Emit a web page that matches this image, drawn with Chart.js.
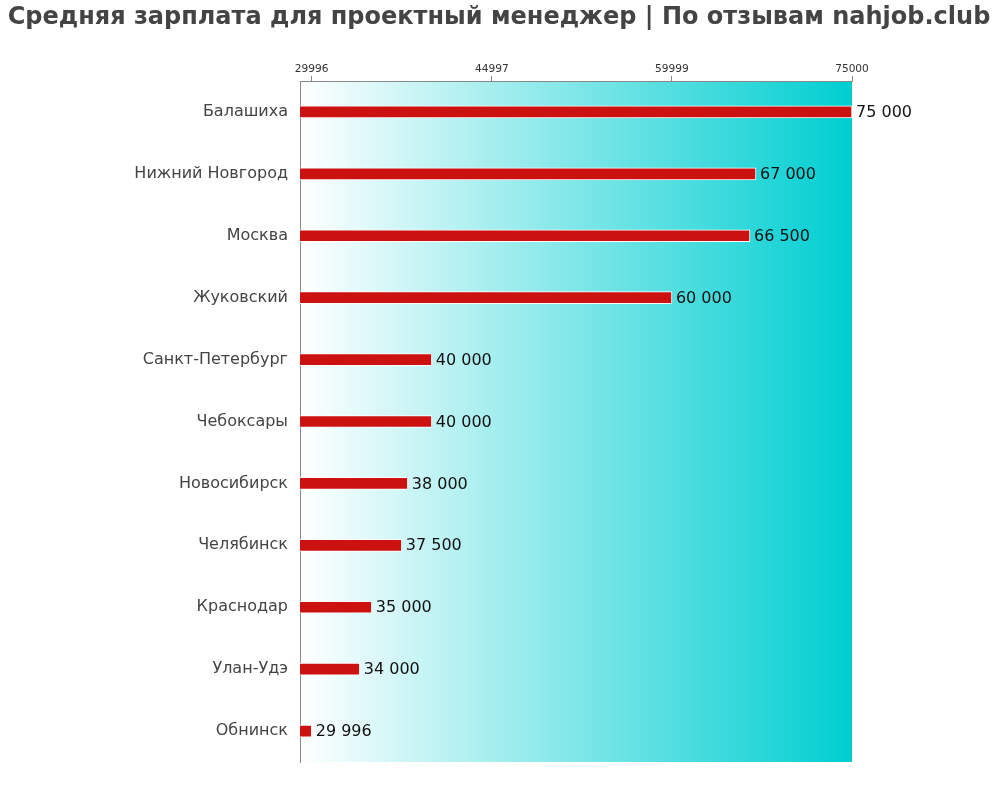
<!DOCTYPE html>
<html>
<head>
<meta charset="utf-8">
<script src="https://cdn.jsdelivr.net/npm/chart.js@4/dist/chart.umd.min.js"></script>
<style>
html,body{margin:0;padding:0;background:#fff;}
#wrap{width:1000px;height:800px;position:relative;}
</style>
</head>
<body>
<div id="wrap"><canvas id="c" width="1000" height="800"></canvas></div>
<script>
const categories = ["Балашиха","Нижний Новгород","Москва","Жуковский","Санкт-Петербург","Чебоксары","Новосибирск","Челябинск","Краснодар","Улан-Удэ","Обнинск"];
const salaries = [75000,67000,66500,60000,40000,40000,38000,37500,35000,34000,29996];
const tickValues = [29996,44997,59999,75000];
const titleText = "Средняя зарплата для проектный менеджер | По отзывам nahjob.club";

function fmt(v){ return String(v).replace(/\B(?=(\d{3})+(?!\d))/g, ' '); }

const bgPlugin = {
  id: 'bg',
  beforeDraw(chart){
    const a = chart.chartArea, ctx = chart.ctx;
    const g = ctx.createLinearGradient(a.left,0,a.right,0);
    g.addColorStop(0,'#ffffff');
    g.addColorStop(1,'#00ced1');
    ctx.save();
    ctx.fillStyle = g;
    ctx.fillRect(a.left,a.top,a.right-a.left,a.bottom-a.top);
    ctx.restore();
  }
};
const titlePlugin = {
  id: 'ttl',
  afterDraw(chart){
    const ctx = chart.ctx;
    ctx.save();
    ctx.font = 'bold 24px "DejaVu Sans"';
    ctx.fillStyle = '#444';
    ctx.textAlign = 'center';
    ctx.textBaseline = 'middle';
    ctx.fillText(titleText, 499, 18);
    ctx.restore();
  }
};
const labelPlugin = {
  id: 'vals',
  afterDatasetsDraw(chart){
    const ctx = chart.ctx;
    const meta = chart.getDatasetMeta(0);
    ctx.save();
    ctx.font = '16px "DejaVu Sans"';
    ctx.fillStyle = '#111';
    ctx.textAlign = 'left';
    ctx.textBaseline = 'middle';
    meta.data.forEach((el,i)=>{
      ctx.fillText(fmt(salaries[i]), el.x + 4, el.y + 1);
    });
    ctx.restore();
  }
};

new Chart(document.getElementById('c'), {
  type: 'bar',
  data: {
    labels: categories,
    datasets: [{
      data: salaries,
      backgroundColor: '#cc1111',
      borderColor: '#ffffff',
      borderWidth: 1,
      barThickness: 12
    }]
  },
  options: {
    indexAxis: 'y',
    responsive: false,
    animation: false,
    layout: { padding: { left: 0, right: 148, top: 35, bottom: 38 } },
    plugins: {
      legend: { display: false },
      tooltip: { enabled: false },
      title: { display: false }
    },
    scales: {
      x: {
        position: 'top',
        min: 29020,
        max: 75000,
        afterBuildTicks(scale){ scale.ticks = tickValues.map(v=>({value:v})); },
        afterFit(scale){ scale.height = 46; },
        ticks: {
          autoSkip: false,
          maxRotation: 0,
          color: '#333',
          font: { family: '"DejaVu Sans"', size: 10.6 },
          padding: 0,
          callback: (v)=>String(v)
        },
        grid: { drawOnChartArea: false, tickLength: 5, color: '#888' },
        border: { display: true, color: '#888' }
      },
      y: {
        afterFit(scale){ scale.width = 300; },
        ticks: {
          color: '#444',
          font: { family: '"DejaVu Sans"', size: 16 },
          padding: 4
        },
        grid: { display: false },
        border: { display: true, color: '#888' }
      }
    }
  },
  plugins: [bgPlugin, labelPlugin, titlePlugin]
});
</script>
</body>
</html>
